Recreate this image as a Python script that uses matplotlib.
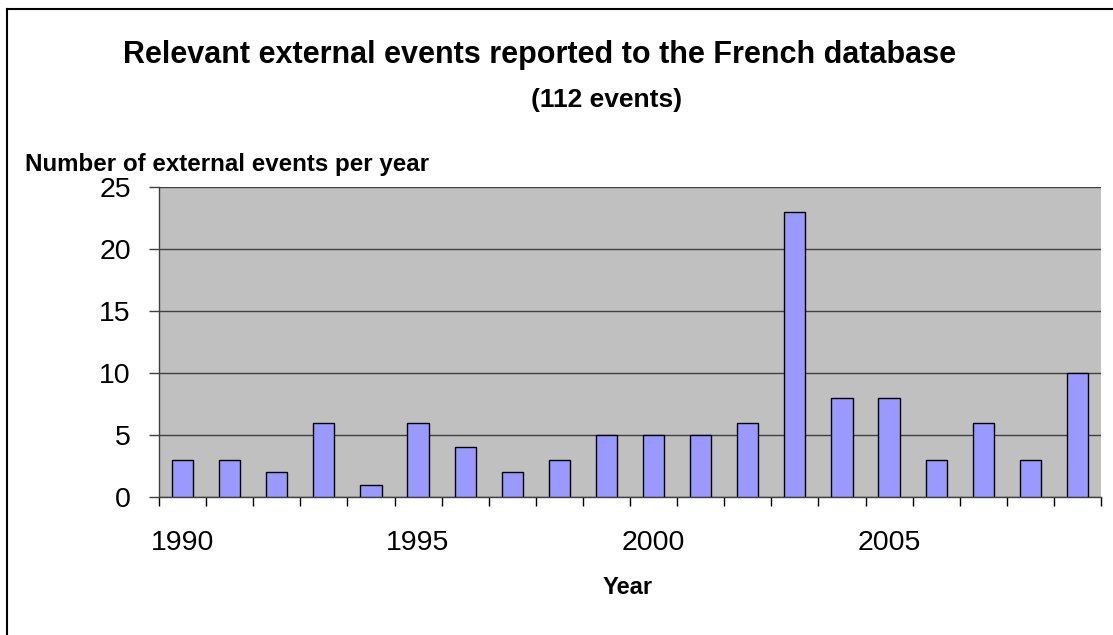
import matplotlib
matplotlib.use("Agg")
import matplotlib.pyplot as plt
from matplotlib.lines import Line2D
import numpy as np

years = [1990, 1991, 1992, 1993, 1994, 1995, 1996, 1997, 1998, 1999,
         2000, 2001, 2002, 2003, 2004, 2005, 2006, 2007, 2008, 2009]
events = [3, 3, 2, 6, 1, 6, 4, 2, 3, 5, 5, 5, 6, 23, 8, 8, 3, 6, 3, 10]
yticks = [0, 5, 10, 15, 20, 25]
label_years = [1990, 1995, 2000, 2005]

plt.rcParams['font.family'] = ['Liberation Sans', 'DejaVu Sans']

W, H = 1113, 635
fig = plt.figure(figsize=(W / 100, H / 100), dpi=100)
ax = fig.add_axes([159 / W, 1 - 497 / H, (1101 - 159) / W, (497 - 187) / H])

x = np.arange(len(years))
ax.set_facecolor('#C0C0C0')
ax.set_axisbelow(True)
ax.grid(axis='y', color='#404040', linewidth=1.0)
ax.bar(x, events, width=0.45, color='#9999FF', edgecolor='black', linewidth=1.0, zorder=3)

ax.set_xlim(-0.5, len(years) - 0.5)
ax.set_ylim(0, 25)
ax.set_yticks(yticks)
ax.set_yticklabels([str(v) for v in yticks], fontsize=20.5)
ax.tick_params(axis='y', length=7.2, width=1, color='#404040', pad=13)

ax.set_xticks(np.arange(len(years) + 1) - 0.5)
ax.set_xticklabels([])
ax.tick_params(axis='x', which='major', length=6.5, width=1, color='black')
lab_pos = [years.index(y) for y in label_years]
ax.set_xticks(lab_pos, minor=True)
ax.set_xticklabels([str(y) for y in label_years], minor=True, fontsize=20.5)
ax.tick_params(axis='x', which='minor', length=0, pad=24)

for s in ['top', 'right']:
    ax.spines[s].set_visible(False)
for s in ['left', 'bottom']:
    ax.spines[s].set_color('#404040')
    ax.spines[s].set_linewidth(1.0)

fig.text(540 / W, 1 - 55 / H, 'Relevant external events reported to the French database',
         ha='center', va='center', fontsize=22, fontweight='bold')
fig.text(607 / W, 1 - 100 / H, '(112 events)',
         ha='center', va='center', fontsize=19, fontweight='bold')
fig.text(25 / W, 1 - 165 / H, 'Number of external events per year',
         ha='left', va='center', fontsize=17.4, fontweight='bold')
fig.text(628 / W, 1 - 587 / H, 'Year', ha='center', va='center', fontsize=17, fontweight='bold')

fig.add_artist(Line2D([7 / W, 1], [1 - 9 / H, 1 - 9 / H], transform=fig.transFigure,
                      color='black', linewidth=1.5))
fig.add_artist(Line2D([7 / W, 7 / W], [0, 1 - 9 / H], transform=fig.transFigure,
                      color='black', linewidth=1.5))

fig.savefig('out.png', dpi=100)
